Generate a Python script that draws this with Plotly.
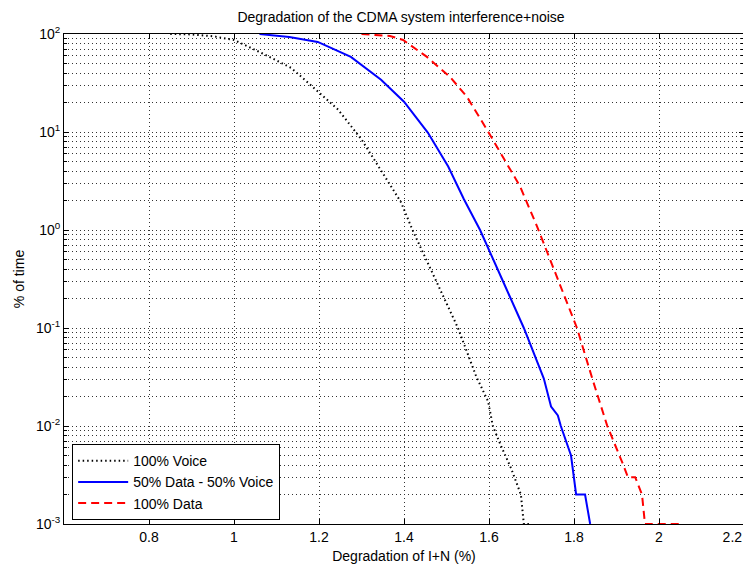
import plotly.graph_objects as go

# ---- data ----
voice_x = [0.85, 0.90, 0.95, 1.00, 1.065, 1.135, 1.198, 1.245, 1.30, 1.34, 1.393,
           1.42, 1.47, 1.527, 1.57, 1.598, 1.609, 1.628, 1.652, 1.675, 1.682, 1.70]
voice_y = [100, 99, 95, 87, 64, 45, 25.7, 16.9, 8.4, 4.45, 1.92,
           1.0, 0.34, 0.1, 0.032, 0.0178, 0.01, 0.0063, 0.0037, 0.002, 0.001, 0.001]

mixed_x = [1.06, 1.13, 1.197, 1.275, 1.346, 1.40, 1.456, 1.504, 1.541, 1.579, 1.63,
           1.682, 1.729, 1.746, 1.762, 1.769, 1.793, 1.800, 1.805, 1.826, 1.838]
mixed_y = [100, 93, 83, 58.4, 34.1, 20.4, 9.86, 4.45, 2.06, 1.0, 0.32,
           0.1, 0.0305, 0.0158, 0.0128, 0.01, 0.005, 0.003, 0.002, 0.002, 0.001]

data_x = [1.30, 1.367, 1.398, 1.454, 1.508, 1.548, 1.595, 1.633, 1.673, 1.713, 1.76,
          1.807, 1.843, 1.878, 1.916, 1.927, 1.944, 1.96, 1.967, 2.057]
data_y = [100, 95.4, 86.9, 58.4, 36.6, 22.9, 10.6, 5.62, 2.79, 1.09, 0.33,
          0.1, 0.0305, 0.0101, 0.004, 0.003, 0.003, 0.002, 0.001, 0.001]

x_ticks = [0.8, 1.0, 1.2, 1.4, 1.6, 1.8, 2.0, 2.2]
# the last label carries trailing no-break spaces so it stays inside the window edge
x_ticktext = ["0.8", "1", "1.2", "1.4", "1.6", "1.8", "2", "2.2" + "\u00a0" * 6]
y_ticks = [1e-3, 1e-2, 1e-1, 1e0, 1e1, 1e2]
y_ticktext = ["10<sup>-3</sup>", "10<sup>-2</sup>", "10<sup>-1</sup>",
              "10<sup>0</sup>", "10<sup>1</sup>", "10<sup>2</sup>"]
y_minor = [m * 10.0 ** e for e in range(-3, 2) for m in range(2, 10)]

names = ["100% Voice", "50% Data - 50% Voice", "100% Data"]

font_family = "Liberation Sans, Arial, Helvetica, sans-serif"

fig = go.Figure()
fig.add_trace(go.Scatter(x=voice_x, y=voice_y, mode="lines", name=names[0],
                         line=dict(color="black", width=2, dash="1.5px,3px")))
fig.add_trace(go.Scatter(x=mixed_x, y=mixed_y, mode="lines", name=names[1],
                         line=dict(color="#0000FF", width=2)))
fig.add_trace(go.Scatter(x=data_x, y=data_y, mode="lines", name=names[2],
                         line=dict(color="#FF0000", width=2, dash="8px,5px")))

# The page body adds an 8px margin, so the figure is sized/margined to compensate.
W, H = 743, 560
grid_dash = "1px,3px"
fig.update_layout(
    width=W, height=H,
    margin=dict(l=56, r=7, t=26, b=44),
    paper_bgcolor="white", plot_bgcolor="white",
    font=dict(family=font_family, size=14, color="black"),
    title=dict(text="Degradation of the CDMA system interference+noise",
               x=393 / W, xanchor="center", y=1 - 9 / H, yanchor="middle",
               font=dict(size=14), automargin=False),
    showlegend=True,
    legend=dict(x=0.012, y=0.008, xanchor="left", yanchor="bottom",
                bgcolor="white", bordercolor="black", borderwidth=1,
                font=dict(size=14), itemwidth=50, tracegroupgap=0),
    xaxis=dict(range=[0.6, 2.2000001], tickvals=x_ticks, ticktext=x_ticktext,
               automargin=False, ticklabeloverflow="allow",
               showline=True, linecolor="black", linewidth=1, mirror="ticks",
               ticks="inside", ticklen=5, tickcolor="black",
               showgrid=True, gridcolor="#333333", gridwidth=1, griddash=grid_dash,
               zeroline=False,
               title=dict(text="Degradation of I+N (%)", standoff=7, font=dict(size=14)),
               tickfont=dict(size=14)),
    yaxis=dict(type="log", range=[-3, 2], tickvals=y_ticks, ticktext=y_ticktext,
               automargin=False, ticklabeloverflow="allow",
               showline=True, linecolor="black", linewidth=1, mirror="ticks",
               ticks="inside", ticklen=5, tickcolor="black",
               showgrid=True, gridcolor="#333333", gridwidth=1, griddash=grid_dash,
               zeroline=False,
               minor=dict(tickmode="array", tickvals=y_minor, ticks="inside", ticklen=3,
                          tickcolor="black", showgrid=True, gridcolor="#333333",
                          gridwidth=1, griddash=grid_dash),
               title=dict(text="% of time", standoff=8, font=dict(size=14)),
               tickfont=dict(size=14)),
)

fig.write_html("out.html")
